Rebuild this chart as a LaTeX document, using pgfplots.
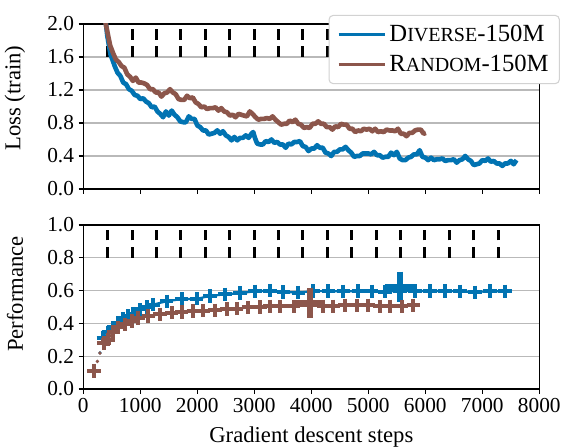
\documentclass[border=0pt]{standalone}
\usepackage{pgfplots}
\pgfplotsset{compat=1.18}
\usepackage{fontspec}
\setmainfont{Liberation Serif}
\definecolor{cblue}{HTML}{0173B2}
\definecolor{cbrown}{HTML}{8C564B}
\newcommand{\fsc}[1]{{\fontsize{15}{18}\selectfont #1}}
\pgfplotsset{
  myax/.style={
    scale only axis, width=342pt, xmin=0, xmax=8000,
    xtick={0,1000,...,8000},
    tick align=outside, tick pos=left, major tick length=3.5pt,
    tick style={black, line width=0.8pt},
    axis line style={black, line width=0.9pt},
    ymajorgrids, grid style={gray!55, line width=0.8pt},
    /pgf/number format/assume math mode=true,
    /pgf/number format/1000 sep={},
    yticklabel style={/pgf/number format/.cd, fixed, fixed zerofill, precision=1},
    ticklabel style={font=\fontsize{16}{19}\selectfont},
    label style={font=\fontsize{17}{20}\selectfont},
    clip=true,
  },
  vdash/.style={black, line width=2.3pt, dash pattern=on 8pt off 5pt, forget plot},
  legend image code/.code={\draw[#1, line width=2.3pt] (0pt,0pt) -- (35pt,0pt);},
}
\begin{document}
\begin{tikzpicture}[font=\fontsize{16}{19}\selectfont]
\path[use as bounding box] (-62.5pt,-44.25pt) rectangle (362pt,291.75pt);
% ---------------- bottom: performance
\begin{axis}[myax, at={(0pt,0pt)}, anchor=south west, height=123pt,
  ymin=0, ymax=1, ytick={0,0.2,...,1.0},
  ylabel={Performance}, ylabel style={at={(axis description cs:-0.15,0.58)}, anchor=center},
  xlabel={Gradient descent steps}, xlabel style={at={(axis description cs:0.5,-0.29)}, anchor=center},
]
\pgfplotsinvokeforeach{428,856,1284,1712,2140,2568,2996,3424,3852,4280,4708,5136,5564,5992,6420,6848,7276}{
  \addplot[vdash] coordinates {(#1,0.8) (#1,1.0)};
}
\addplot[cblue, line width=1.6pt] coordinates {
(351,0.31)(439,0.345)(526,0.375)(614,0.405)(702,0.43)(790,0.445)(877,0.46)(994,0.485)(1111,0.50)(1228,0.515)(1462,0.535)(1725,0.548)(1989,0.55)(2222,0.567)(2485,0.577)(2749,0.585)(3012,0.595)(3275,0.60)(3509,0.592)(3772,0.588)(4035,0.597)(4298,0.597)(4561,0.595)(4824,0.597)(5058,0.595)(5292,0.593)(5556,0.60)(5819,0.597)(6082,0.598)(6345,0.597)(6608,0.596)(6871,0.59)(7134,0.597)(7398,0.595)
};
\addplot[cblue, only marks, mark=+, mark size=5pt, line width=3pt] coordinates {
(351,0.31)(439,0.345)(526,0.375)(614,0.405)(702,0.43)(790,0.445)(877,0.46)(994,0.485)(1111,0.50)(1228,0.515)(1462,0.535)(1725,0.548)(1989,0.55)(2222,0.567)(2485,0.577)(2749,0.585)(3012,0.595)(3275,0.60)(3509,0.592)(3772,0.588)(4035,0.597)(4298,0.597)(4561,0.595)(4824,0.597)(5058,0.595)(5292,0.593)(5556,0.60)(5819,0.597)(6082,0.598)(6345,0.597)(6608,0.596)(6871,0.59)(7134,0.597)(7398,0.595)
};
\addplot[cblue, only marks, mark=*, mark size=1pt] coordinates {(292,0.22)};
\addplot[cblue, only marks, mark=+, mark size=11.5pt, line width=5pt] coordinates {(5556,0.622)};
\addplot[cbrown, line width=1.6pt] coordinates {
(363,0.28)(430,0.30)(526,0.35)(614,0.375)(731,0.395)(848,0.415)(965,0.432)(1140,0.445)(1345,0.455)(1550,0.465)(1725,0.47)(1930,0.475)(2105,0.478)(2310,0.48)(2515,0.487)(2690,0.49)(2895,0.497)(3099,0.50)(3275,0.505)(3450,0.505)(3690,0.505)(3977,0.51)(4211,0.505)(4386,0.505)(4591,0.51)(4795,0.51)(5000,0.51)(5205,0.505)(5380,0.505)(5585,0.505)(5789,0.51)
};
\addplot[cbrown, only marks, mark=+, mark size=5pt, line width=3pt] coordinates {
(187,0.11)(363,0.28)(430,0.30)(526,0.35)(614,0.375)(731,0.395)(848,0.415)(965,0.432)(1140,0.445)(1345,0.455)(1550,0.465)(1725,0.47)(1930,0.475)(2105,0.478)(2310,0.48)(2515,0.487)(2690,0.49)(2895,0.497)(3099,0.50)(3275,0.505)(3450,0.505)(3690,0.505)(3977,0.51)(4211,0.505)(4386,0.505)(4591,0.51)(4795,0.51)(5000,0.51)(5205,0.505)(5380,0.505)(5585,0.505)(5789,0.51)
};
\addplot[cbrown, only marks, mark=*, mark size=1.1pt] coordinates {(246,0.168)(292,0.219)};
\addplot[cbrown, only marks, mark=+, mark size=11.5pt, line width=5pt] coordinates {(3977,0.525)};
\end{axis}
% ---------------- top: loss
\begin{axis}[myax, at={(0pt,150pt)}, anchor=south west, height=123.75pt,
  ymin=0, ymax=2, ytick={0,0.4,...,2.0}, xticklabels={},
  ylabel={Loss (train)}, ylabel style={at={(axis description cs:-0.15,0.55)}, anchor=center},
  legend style={at={(1.045,1.055)}, anchor=north east, draw=gray!35, line width=0.8pt,
    rounded corners=3pt, fill=white, fill opacity=1, text opacity=1,
    font=\fontsize{18.5}{21}\selectfont, row sep=4.5pt, inner xsep=6pt, inner ysep=5.5pt,
    cells={anchor=west}},
]
\pgfplotsinvokeforeach{428,856,1284,1712,2140,2568,2996,3424,3852,4280,4708,5136,5564,5992,6420,6848,7276}{
  \addplot[vdash] coordinates {(#1,1.6) (#1,2.0)};
}
\addplot[cblue, line width=3.5pt, line join=round] coordinates {
(390,2.05)(420,1.86)(450,1.74)(480,1.62)(510,1.57)(550,1.49)(600,1.41)(650,1.37)(700,1.29)(750,1.27)
(800,1.21)(850,1.19)(900,1.14)(950,1.13)(1000,1.09)(1050,1.10)(1100,1.06)(1150,1.04)(1200,0.99)(1250,1.00)
(1300,0.94)(1350,0.91)(1400,0.87)(1450,0.94)(1500,0.89)(1550,0.95)(1600,0.90)(1650,0.87)(1700,0.82)(1750,0.81)
(1800,0.81)(1850,0.88)(1900,0.85)(1950,0.85)(2000,0.77)(2050,0.75)(2100,0.71)(2150,0.71)(2200,0.66)(2250,0.67)
(2300,0.68)(2350,0.71)(2400,0.67)(2450,0.70)(2500,0.65)(2550,0.63)(2600,0.59)(2650,0.63)(2700,0.59)(2750,0.62)
(2800,0.62)(2850,0.65)(2900,0.62)(2950,0.67)(2980,0.69)(3010,0.62)(3050,0.55)(3100,0.54)(3150,0.54)(3200,0.58)
(3250,0.57)(3300,0.60)(3350,0.56)(3400,0.57)(3450,0.54)(3500,0.54)(3550,0.50)(3600,0.55)(3650,0.54)(3700,0.57)
(3750,0.57)(3800,0.58)(3850,0.52)(3900,0.51)(3950,0.46)(4000,0.49)(4050,0.49)(4100,0.53)(4150,0.50)(4200,0.50)
(4250,0.44)(4300,0.43)(4350,0.40)(4400,0.45)(4450,0.45)(4500,0.48)(4550,0.48)(4600,0.51)(4650,0.47)(4700,0.44)
(4750,0.39)(4800,0.40)(4850,0.40)(4900,0.43)(4950,0.43)(5000,0.43)(5050,0.42)(5100,0.45)(5150,0.41)(5200,0.41)
(5250,0.38)(5300,0.39)(5350,0.39)(5400,0.44)(5450,0.41)(5500,0.45)(5550,0.37)(5600,0.35)(5650,0.35)(5700,0.38)
(5750,0.39)(5800,0.42)(5850,0.42)(5900,0.47)(5950,0.39)(6000,0.38)(6050,0.35)(6100,0.38)(6150,0.35)(6200,0.36)
(6250,0.36)(6300,0.37)(6350,0.34)(6400,0.35)(6450,0.35)(6500,0.36)(6550,0.32)(6600,0.35)(6650,0.36)(6700,0.40)
(6750,0.36)(6800,0.34)(6850,0.29)(6900,0.30)(6950,0.31)(7000,0.35)(7050,0.34)(7100,0.37)(7150,0.33)(7200,0.34)
(7250,0.31)(7300,0.31)(7350,0.28)(7400,0.31)(7450,0.31)(7500,0.34)(7550,0.30)(7600,0.35)
};
\addlegendentry{D\fsc{IVERSE}-150M}
\addplot[cbrown, line width=3.5pt, line join=round] coordinates {
(380,2.05)(420,1.91)(470,1.74)(520,1.65)(570,1.57)(620,1.54)(670,1.49)(720,1.47)(770,1.39)(820,1.36)
(870,1.31)(920,1.35)(970,1.29)(1020,1.29)(1070,1.28)(1120,1.26)(1170,1.21)(1220,1.21)(1270,1.17)(1320,1.17)
(1370,1.12)(1420,1.16)(1470,1.17)(1520,1.21)(1570,1.17)(1620,1.15)(1670,1.09)(1720,1.08)(1770,1.08)(1820,1.13)
(1870,1.10)(1920,1.11)(1970,1.05)(2020,1.03)(2070,0.99)(2120,1.00)(2170,0.97)(2220,0.98)(2270,0.98)(2320,0.99)
(2370,0.95)(2420,0.98)(2470,0.94)(2520,0.93)(2570,0.89)(2620,0.90)(2670,0.87)(2720,0.91)(2770,0.90)(2820,0.89)
(2870,0.88)(2920,0.94)(2970,0.91)(3020,0.87)(3070,0.84)(3120,0.85)(3170,0.85)(3220,0.86)(3270,0.85)(3320,0.88)
(3370,0.84)(3420,0.81)(3470,0.78)(3520,0.79)(3570,0.79)(3620,0.83)(3670,0.81)(3720,0.84)(3770,0.79)(3820,0.78)
(3870,0.74)(3920,0.75)(3970,0.74)(4020,0.79)(4070,0.79)(4120,0.82)(4170,0.79)(4220,0.79)(4270,0.75)(4320,0.75)
(4370,0.72)(4420,0.76)(4470,0.75)(4520,0.79)(4570,0.78)(4620,0.78)(4670,0.73)(4720,0.73)(4770,0.69)(4820,0.71)
(4870,0.70)(4920,0.73)(4970,0.72)(5020,0.73)(5070,0.70)(5120,0.73)(5170,0.69)(5220,0.70)(5270,0.69)(5320,0.72)
(5370,0.71)(5420,0.71)(5470,0.70)(5520,0.73)(5570,0.67)(5620,0.67)(5670,0.64)(5720,0.68)(5770,0.68)(5820,0.71)
(5870,0.72)(5920,0.72)(5970,0.67)(6010,0.68)
};
\addlegendentry{R\fsc{ANDOM}-150M}
\end{axis}
\end{tikzpicture}
\end{document}
